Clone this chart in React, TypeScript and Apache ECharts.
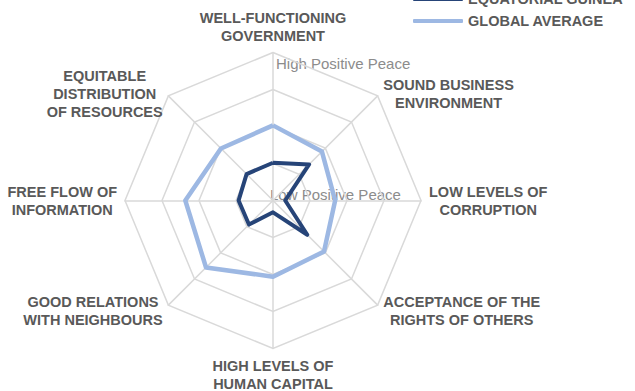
import React, { useEffect, useRef } from "react";
import * as echarts from "echarts";

const indicatorNames = [
  "WELL-FUNCTIONING\nGOVERNMENT",
  "EQUITABLE\nDISTRIBUTION\nOF RESOURCES",
  "FREE FLOW OF\nINFORMATION",
  "GOOD RELATIONS\nWITH NEIGHBOURS",
  "HIGH LEVELS OF\nHUMAN CAPITAL",
  "ACCEPTANCE OF THE\nRIGHTS OF OTHERS",
  "LOW LEVELS OF\nCORRUPTION",
  "SOUND BUSINESS\nENVIRONMENT",
];
const axisMax = 4;
const seriesNames = ["EQUATORIAL GUINEA", "GLOBAL AVERAGE"];
const equatorialGuinea = [1.02, 1.01, 0.93, 0.92, 0.32, 1.31, 0.33, 1.38];
const globalAverage = [2.03, 1.99, 2.37, 2.56, 2.06, 1.95, 1.68, 1.87];
const scaleLabels = ["High Positive Peace", "Low Positive Peace"];
const colors = ["#264478", "#9DB8E3"];

const FONT = '"Liberation Sans", Arial, sans-serif';

export default function App() {
  const ref = useRef<HTMLDivElement>(null);
  useEffect(() => {
    document.body.style.margin = "0";
    const chart = echarts.init(ref.current!, null, { renderer: "svg" });
    const labelStyle = {
      color: "#595959",
      fontSize: 14.5,
      fontWeight: "bold",
      fontFamily: FONT,
      lineHeight: 18,
    };
    chart.setOption({
      animation: false,
      backgroundColor: "#ffffff",
      legend: {
        orient: "vertical",
        left: 413,
        top: -9.5,
        padding: 0,
        itemWidth: 50,
        itemHeight: 4,
        itemGap: 5,
        icon: "roundRect",
        textStyle: { ...labelStyle, lineHeight: 17 },
        data: seriesNames,
      },
      radar: {
        center: [273, 200.5],
        radius: 148,
        startAngle: 90,
        splitNumber: 4,
        shape: "polygon",
        nameGap: 8,
        axisName: {
          ...labelStyle,
          formatter: (name: string) => {
            const i = indicatorNames.indexOf(name);
            const upperDiagonal = i === 1 || i === 7;
            const body = name
              .split("\n")
              .map((l) => `{c|${l}}`)
              .join("\n");
            return upperDiagonal ? `{s| }\n${body}` : body;
          },
          rich: {
            c: { ...labelStyle, align: "center" },
            s: { fontSize: 6, lineHeight: 8 },
          },
        },
        splitArea: { show: false },
        splitLine: { lineStyle: { color: "#d9d9d9", width: 1.5 } },
        axisLine: { lineStyle: { color: "#d9d9d9", width: 1.5 } },
        axisTick: { show: false },
        axisLabel: { show: false },
        indicator: indicatorNames.map((n) => ({ name: n, min: 0, max: axisMax })),
      },
      graphic: [
        {
          type: "text",
          x: 276,
          y: 63,
          silent: true,
          z: 0,
          style: {
            text: scaleLabels[0],
            font: `15px ${FONT}`,
            fill: "#8c8c8c",
            verticalAlign: "middle",
          },
        },
        {
          type: "text",
          x: 270,
          y: 194,
          silent: true,
          z: 0,
          style: {
            text: scaleLabels[1],
            font: `15px ${FONT}`,
            fill: "#8c8c8c",
            verticalAlign: "middle",
          },
        },
      ],
      series: [
        {
          type: "radar",
          symbol: "none",
          z: 5,
          data: [
            {
              name: seriesNames[0],
              value: equatorialGuinea,
              lineStyle: { color: colors[0], width: 4 },
              itemStyle: { color: colors[0] },
            },
            {
              name: seriesNames[1],
              value: globalAverage,
              lineStyle: { color: colors[1], width: 4.5 },
              itemStyle: { color: colors[1] },
            },
          ],
        },
      ],
    });
    return () => chart.dispose();
  }, []);
  return (
    <div
      ref={ref}
      style={{ position: "absolute", left: 0, top: 0, width: 635, height: 391 }}
    />
  );
}
